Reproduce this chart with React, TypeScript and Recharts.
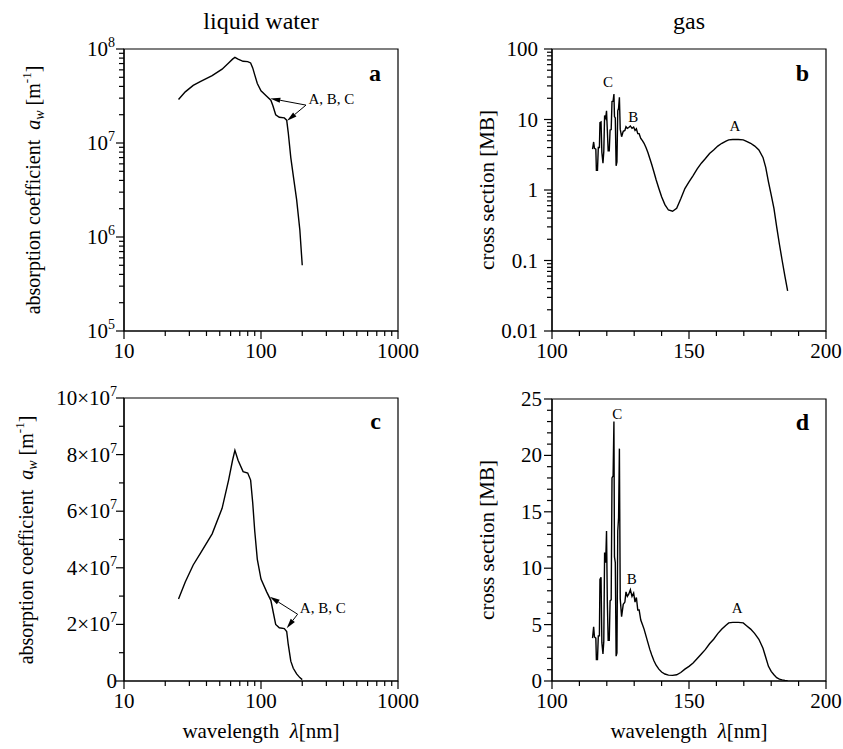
import React from "react"
import {
  LineChart, Line, XAxis, YAxis, ReferenceArea, ReferenceLine, ReferenceDot,
} from "recharts"

const FONT = "Liberation Serif"

// liquid water: absorption coefficient a_w [1/m] against wavelength [nm]
const waterWavelength = [25, 28, 32, 36, 44, 52, 58, 62, 64.5, 68, 74, 80, 84, 87, 90, 94, 100, 110, 118, 122, 128, 136, 148, 154, 158, 165, 172, 182, 192, 200]
const waterAbsorption = [2.9e7, 3.5e7, 4.1e7, 4.5e7, 5.2e7, 6.1e7, 7.1e7, 7.8e7, 8.15e7, 7.8e7, 7.4e7, 7.35e7, 7.1e7, 6.3e7, 5.3e7, 4.3e7, 3.6e7, 3.15e7, 2.85e7, 2.5e7, 2.0e7, 1.88e7, 1.85e7, 1.75e7, 1.3e7, 7.0e6, 4.5e6, 2.5e6, 1.2e6, 5.0e5]

// gas: cross section [MB] against wavelength [nm]
const gasWavelength = [
  114.8, 115.2, 115.5, 116.0, 116.2, 116.6, 116.9, 117.3, 117.5, 117.9, 118.2, 118.6, 118.9, 119.2, 119.6, 119.9,
  120.2, 120.5, 120.9, 121.2, 121.6, 121.9, 122.3, 122.6, 122.8, 123.1, 123.4, 123.7, 124.0, 124.3, 124.6, 124.9,
  125.4, 126.0, 126.6, 127.0, 127.5, 128.0, 128.6, 129.2, 129.8, 130.3, 130.8, 131.3, 131.8, 132.4, 133.0, 133.6,
  134.3, 135.0, 135.7, 136.4, 137.2, 138.0, 139.0, 140.0, 141.2, 142.5, 144.0, 145.5, 147.0, 148.5, 150.0, 151.5,
  153.0, 154.5, 156.0, 157.5, 159.0, 160.5, 162.0, 163.5, 164.5, 166.0, 168.0, 169.8, 171.0, 172.5, 174.0, 175.5,
  177.0, 178.0, 179.0, 180.0, 181.0, 182.0, 183.0, 184.0, 185.0, 186.0,
]
const gasCrossSection = [
  3.8, 4.8, 3.9, 3.8, 1.9, 1.9, 4.0, 4.0, 9.0, 9.2, 3.4, 2.4, 3.5, 11.4, 10.5, 13.3,
  7.0, 3.6, 3.6, 7.1, 7.2, 18.0, 18.2, 23.0, 11.0, 10.5, 2.2, 2.5, 13.3, 14.5, 20.6, 7.3,
  5.7, 6.8, 7.0, 7.9, 7.5, 7.7, 8.1, 7.5, 7.8, 7.0, 7.4, 6.3, 6.3, 5.4, 5.0, 4.6,
  4.0, 3.4, 2.8, 2.3, 1.8, 1.4, 1.05, 0.8, 0.62, 0.52, 0.5, 0.55, 0.75, 1.05, 1.3, 1.6,
  2.0, 2.4, 2.8, 3.3, 3.7, 4.2, 4.6, 4.95, 5.15, 5.2, 5.2, 5.15, 4.9, 4.6, 4.2, 3.7,
  2.9, 2.1, 1.3, 0.85, 0.55, 0.3, 0.17, 0.1, 0.06, 0.037,
]

// ticks
const waveLogTicks = [10, 20, 30, 40, 50, 60, 70, 80, 90, 100, 200, 300, 400, 500, 600, 700, 800, 900, 1000]
const waveLogMajor = [10, 100, 1000]
const waveLinTicks = [100, 110, 120, 130, 140, 150, 160, 170, 180, 190, 200]
const waveLinMajor = [100, 150, 200]
const waterLogTicks = [
  1e5, 2e5, 3e5, 4e5, 5e5, 6e5, 7e5, 8e5, 9e5,
  1e6, 2e6, 3e6, 4e6, 5e6, 6e6, 7e6, 8e6, 9e6,
  1e7, 2e7, 3e7, 4e7, 5e7, 6e7, 7e7, 8e7, 9e7, 1e8,
]
const waterLogMajor = [1e5, 1e6, 1e7, 1e8]
const waterLinTicks = [0, 1e7, 2e7, 3e7, 4e7, 5e7, 6e7, 7e7, 8e7, 9e7, 1e8]
const waterLinMajor = [0, 2e7, 4e7, 6e7, 8e7, 1e8]
const gasLogTicks = [
  0.01, 0.02, 0.03, 0.04, 0.05, 0.06, 0.07, 0.08, 0.09,
  0.1, 0.2, 0.3, 0.4, 0.5, 0.6, 0.7, 0.8, 0.9,
  1, 2, 3, 4, 5, 6, 7, 8, 9,
  10, 20, 30, 40, 50, 60, 70, 80, 90, 100,
]
const gasLogMajor = [0.01, 0.1, 1, 10, 100]
const gasLinTicks = [0, 1, 2, 3, 4, 5, 6, 7, 8, 9, 10, 11, 12, 13, 14, 15, 16, 17, 18, 19, 20, 21, 22, 23, 24, 25]
const gasLinMajor = [0, 5, 10, 15, 20, 25]

const waterData = waterWavelength.map((x, i) => ({ x, y: waterAbsorption[i] }))
const gasData = gasWavelength.map((x, i) => ({ x, y: gasCrossSection[i] }))

const expLabel = (v: number) => (
  <>10<tspan dy={-9} fontSize={14}>{Math.round(Math.log10(v))}</tspan></>
)
const timesLabel = (v: number) =>
  v === 0 ? <>0</> : <>{Math.round(v / 1e7)}×10<tspan dy={-9} fontSize={14}>7</tspan></>
const plainLabel = (v: number) => <>{String(v)}</>

const txt = { fontFamily: FONT }

const XTick = (props: any) => {
  const { x, y, payload, major } = props
  const isMajor = major.includes(payload.value)
  return (
    <g>
      <line x1={x} x2={x} y1={y} y2={y + (isMajor ? 8 : 5)} stroke="#000" strokeWidth={1.2} />
      {isMajor && (
        <text x={x} y={y + 27} textAnchor="middle" style={txt} fontSize={21} fill="#000">
          {payload.value}
        </text>
      )}
    </g>
  )
}

const YTick = (props: any) => {
  const { x, y, payload, major, render, gap } = props
  const isMajor = major.includes(payload.value)
  return (
    <g>
      <line x1={x} x2={x - (isMajor ? 8 : 5)} y1={y} y2={y} stroke="#000" strokeWidth={1.2} />
      {isMajor && (
        <text x={x - gap} y={y + 7} textAnchor="end" style={txt} fontSize={21} fill="#000">
          {render(payload.value)}
        </text>
      )}
    </g>
  )
}

const Arrow = (p: any) => {
  const { x1, y1, x2, y2 } = p
  const a = Math.atan2(y2 - y1, x2 - x1)
  const L = 10
  const W = 2.6
  const bx = x2 - L * Math.cos(a)
  const by = y2 - L * Math.sin(a)
  const pts = `${x2},${y2} ${bx + W * Math.sin(a)},${by - W * Math.cos(a)} ${bx - W * Math.sin(a)},${by + W * Math.cos(a)}`
  return (
    <g>
      <line x1={x1} y1={y1} x2={bx} y2={by} stroke="#000" strokeWidth={1} />
      <polygon points={pts} fill="#000" />
    </g>
  )
}

const note = (label: string, anchor: string) => (p: any) => (
  <text x={p.cx} y={p.cy} textAnchor={anchor} style={txt} fontSize={15} fill="#000">{label}</text>
)

const axisLine = { stroke: "#000", strokeWidth: 1.2 }

export default function App() {
  return (
    <div style={{ position: "absolute", left: 0, top: 0, width: 843, height: 749, background: "#fff", fontFamily: FONT }}>
      {/* a: liquid water, log-log */}
      <div style={{ position: "absolute", left: 0, top: 0 }}>
        <LineChart width={420} height={370} data={waterData} margin={{ top: 49, right: 22, bottom: 0, left: 0 }}>
          <XAxis dataKey="x" type="number" scale="log" domain={[10, 1000]} allowDataOverflow ticks={waveLogTicks} interval={0}
            height={39} tickSize={0} tickMargin={0} tickLine={false} axisLine={axisLine}
            tick={<XTick major={waveLogMajor} />} />
          <YAxis type="number" scale="log" domain={[1e5, 1e8]} allowDataOverflow ticks={waterLogTicks} interval={0}
            width={124} tickSize={0} tickMargin={0} tickLine={false} axisLine={axisLine}
            tick={<YTick major={waterLogMajor} render={expLabel} gap={9} />} />
          <ReferenceArea x1={10} x2={1000} y1={1e5} y2={1e8} fill="none" stroke="#000" strokeWidth={1.2} />
          <Line dataKey="y" stroke="#000" strokeWidth={1.4} dot={false} isAnimationActive={false} />
          <ReferenceLine segment={[{ x: 213, y: 2.53e7 }, { x: 117, y: 2.98e7 }]} shape={Arrow} />
          <ReferenceLine segment={[{ x: 213, y: 2.53e7 }, { x: 155, y: 1.72e7 }]} shape={Arrow} />
          <ReferenceDot x={222} y={2.6e7} r={0} shape={note("A, B, C", "start")} />
        </LineChart>
      </div>

      {/* b: gas, log y */}
      <div style={{ position: "absolute", left: 420, top: 0 }}>
        <LineChart width={423} height={370} data={gasData} margin={{ top: 49, right: 17, bottom: 0, left: 0 }}>
          <XAxis dataKey="x" type="number" domain={[100, 200]} allowDataOverflow ticks={waveLinTicks} interval={0}
            height={39} tickSize={0} tickMargin={0} tickLine={false} axisLine={axisLine}
            tick={<XTick major={waveLinMajor} />} />
          <YAxis type="number" scale="log" domain={[0.01, 100]} allowDataOverflow ticks={gasLogTicks} interval={0}
            width={132} tickSize={0} tickMargin={0} tickLine={false} axisLine={axisLine}
            tick={<YTick major={gasLogMajor} render={plainLabel} gap={14} />} />
          <ReferenceArea x1={100} x2={200} y1={0.01} y2={100} fill="none" stroke="#000" strokeWidth={1.2} />
          <Line dataKey="y" stroke="#000" strokeWidth={1.4} dot={false} isAnimationActive={false} />
          <ReferenceDot x={120.4} y={28.9} r={0} shape={note("C", "middle")} />
          <ReferenceDot x={129.7} y={9.3} r={0} shape={note("B", "middle")} />
          <ReferenceDot x={166.8} y={6.9} r={0} shape={note("A", "middle")} />
        </LineChart>
      </div>

      {/* c: liquid water, linear y */}
      <div style={{ position: "absolute", left: 0, top: 370 }}>
        <LineChart width={420} height={379} data={waterData} margin={{ top: 28, right: 22, bottom: 0, left: 0 }}>
          <XAxis dataKey="x" type="number" scale="log" domain={[10, 1000]} allowDataOverflow ticks={waveLogTicks} interval={0}
            height={68} tickSize={0} tickMargin={0} tickLine={false} axisLine={axisLine}
            tick={<XTick major={waveLogMajor} />} />
          <YAxis type="number" domain={[0, 1e8]} allowDataOverflow ticks={waterLinTicks} interval={0}
            width={124} tickSize={0} tickMargin={0} tickLine={false} axisLine={axisLine}
            tick={<YTick major={waterLinMajor} render={timesLabel} gap={7} />} />
          <ReferenceArea x1={10} x2={1000} y1={0} y2={1e8} fill="none" stroke="#000" strokeWidth={1.2} />
          <Line dataKey="y" stroke="#000" strokeWidth={1.4} dot={false} isAnimationActive={false} />
          <ReferenceLine segment={[{ x: 185, y: 2.36e7 }, { x: 116, y: 2.98e7 }]} shape={Arrow} />
          <ReferenceLine segment={[{ x: 185, y: 2.36e7 }, { x: 154, y: 1.86e7 }]} shape={Arrow} />
          <ReferenceDot x={192} y={2.4e7} r={0} shape={note("A, B, C", "start")} />
        </LineChart>
      </div>

      {/* d: gas, linear y */}
      <div style={{ position: "absolute", left: 420, top: 370 }}>
        <LineChart width={423} height={379} data={gasData} margin={{ top: 29, right: 17, bottom: 0, left: 0 }}>
          <XAxis dataKey="x" type="number" domain={[100, 200]} allowDataOverflow ticks={waveLinTicks} interval={0}
            height={68} tickSize={0} tickMargin={0} tickLine={false} axisLine={axisLine}
            tick={<XTick major={waveLinMajor} />} />
          <YAxis type="number" domain={[0, 25]} allowDataOverflow ticks={gasLinTicks} interval={0}
            width={132} tickSize={0} tickMargin={0} tickLine={false} axisLine={axisLine}
            tick={<YTick major={gasLinMajor} render={plainLabel} gap={10} />} />
          <ReferenceArea x1={100} x2={200} y1={0} y2={25} fill="none" stroke="#000" strokeWidth={1.2} />
          <Line dataKey="y" stroke="#000" strokeWidth={1.4} dot={false} isAnimationActive={false} />
          <ReferenceDot x={123.8} y={23.2} r={0} shape={note("C", "middle")} />
          <ReferenceDot x={129.1} y={8.6} r={0} shape={note("B", "middle")} />
          <ReferenceDot x={167.6} y={6.0} r={0} shape={note("A", "middle")} />
        </LineChart>
      </div>

      {/* titles, axis titles and panel letters */}
      <svg width={843} height={749} style={{ position: "absolute", left: 0, top: 0, pointerEvents: "none", fontFamily: FONT }}
        fill="#000">
        <text x={261} y={29} textAnchor="middle" fontSize={24} style={txt}>liquid water</text>
        <text x={689} y={29} textAnchor="middle" fontSize={24} style={txt}>gas</text>

        <text x={40} y={190} textAnchor="middle" fontSize={20} style={txt} transform="rotate(-90 40 190)">
          absorption coefficient {"\u00a0"}<tspan fontStyle="italic">a</tspan>
          <tspan fontStyle="italic" fontSize={14} dy={4}>w</tspan>
          <tspan dy={-4}> [m</tspan><tspan fontSize={13} dy={-9}>-1</tspan><tspan dy={9}>]</tspan>
        </text>
        <text x={33} y={540} textAnchor="middle" fontSize={20} style={txt} transform="rotate(-90 33 540)">
          absorption coefficient {"\u00a0"}<tspan fontStyle="italic">a</tspan>
          <tspan fontStyle="italic" fontSize={14} dy={4}>w</tspan>
          <tspan dy={-4}> [m</tspan><tspan fontSize={13} dy={-9}>-1</tspan><tspan dy={9}>]</tspan>
        </text>
        <text x={494} y={190} textAnchor="middle" fontSize={21} style={txt} transform="rotate(-90 494 190)">cross section [MB]</text>
        <text x={494} y={540} textAnchor="middle" fontSize={21} style={txt} transform="rotate(-90 494 540)">cross section [MB]</text>

        <text x={261} y={738} textAnchor="middle" fontSize={21} style={txt}>
          wavelength {"\u00a0"}<tspan fontStyle="italic">λ</tspan>[nm]
        </text>
        <text x={689} y={738} textAnchor="middle" fontSize={21} style={txt}>
          wavelength {"\u00a0"}<tspan fontStyle="italic">λ</tspan>[nm]
        </text>

        <text x={381} y={81} textAnchor="end" fontSize={24} fontWeight="bold" style={txt}>a</text>
        <text x={809} y={81} textAnchor="end" fontSize={24} fontWeight="bold" style={txt}>b</text>
        <text x={381} y={429} textAnchor="end" fontSize={24} fontWeight="bold" style={txt}>c</text>
        <text x={809} y={430} textAnchor="end" fontSize={24} fontWeight="bold" style={txt}>d</text>
      </svg>
    </div>
  )
}
